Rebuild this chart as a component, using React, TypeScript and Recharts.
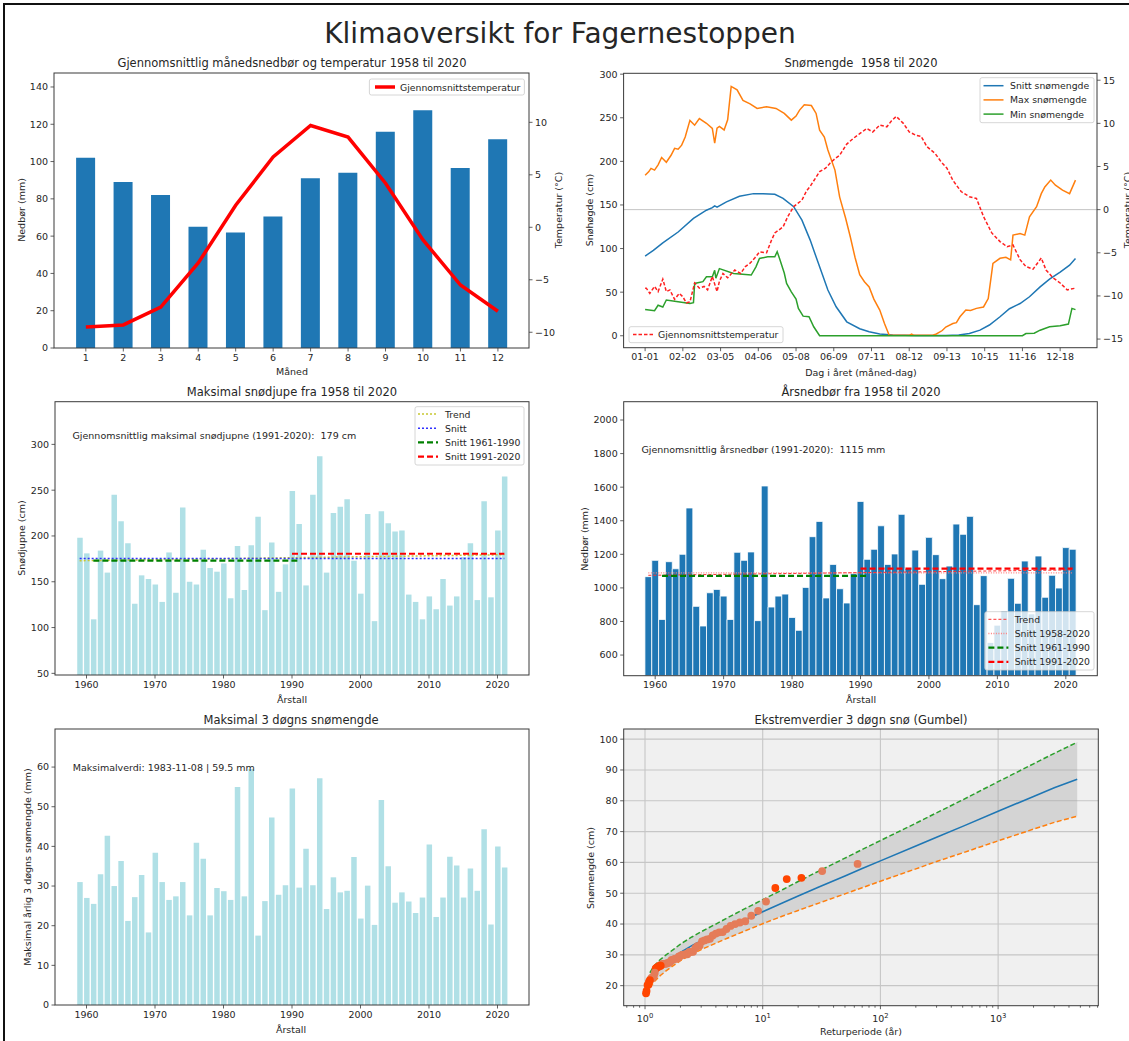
import React from 'react'
import {
  Area,
  Bar,
  CartesianGrid,
  ComposedChart,
  Line,
  LineChart,
  ReferenceLine,
  Scatter,
  XAxis,
  YAxis,
} from 'recharts'

const FONT = '"DejaVu Sans", sans-serif'
const INK = '#262626'
const SPINE = '#3a3a3a'
const tickStyle = { fontSize: 9.5, fill: INK, fontFamily: FONT }
const NB = '\u00a0'

// månedsnormaler
const months = [1, 2, 3, 4, 5, 6, 7, 8, 9, 10, 11, 12]
const monthPrecip = [102, 89, 82, 65, 62, 70.5, 91, 94, 116, 127.5, 96.5, 112]
const monthTemp = [-9.5, -9.3, -7.6, -3.4, 2.1, 6.7, 9.7, 8.6, 4.2, -1.2, -5.5, -8.0]

// snømengde gjennom året: [dag i året, verdi]
const dayTicks = [0, 32, 64, 96, 128, 160, 192, 224, 256, 288, 320, 352]
const dayTickLabels = ['01-01', '02-02', '03-05', '04-06', '05-08', '06-09', '07-11', '08-12', '09-13', '10-15', '11-16', '12-18']

const meanSnow: [number, number][] = [
  [0, 91.4], [7, 98], [15, 106.5], [28, 119], [41, 134.6], [52, 144], [57, 147], [59, 149], [61, 147.5],
  [69, 153.6], [80, 160], [92, 163], [100, 163], [110, 162.3], [117, 157.5], [126, 148], [133, 132.6],
  [140, 109.7], [148, 79], [155, 52.4], [162, 33.2], [171, 16], [182, 8], [190, 4.6], [199, 2], [210, 0.8],
  [230, 0.3], [255, 0.3], [266, 0.8], [275, 2.5], [284, 6.4], [292, 12.3], [301, 21.8], [309, 31], [318, 37],
  [326, 44.7], [335, 56], [343, 65], [352, 73], [360, 81], [365, 88.7],
]
const maxSnow: [number, number][] = [
  [0, 184], [3, 188], [5, 192], [8, 190], [11, 196], [14, 204.5], [18, 199], [22, 207], [25, 215], [28, 214],
  [31, 218.6], [34, 228], [38, 247], [42, 241.5], [46, 249], [52, 243.7], [57, 237.7], [59, 221], [61, 238],
  [63, 240], [67, 236], [70, 247.7], [73, 286], [78, 282], [83, 270], [89, 266], [95, 260.7], [103, 262.6],
  [111, 260.7], [118, 255], [124, 247.3], [128, 252], [131, 258.8], [135, 265], [141, 264], [145, 255],
  [148, 235.8], [152, 228], [155, 213], [161, 190], [165, 159], [170, 135], [174, 113.5], [178, 90], [182, 70],
  [186, 62], [190, 56], [194, 42], [199, 29.5], [203, 14], [207, 0.5], [224, 0.5], [226, 2], [228, 0.5],
  [244, 0.5], [247, 2], [252, 6], [255, 10], [261, 14], [264, 15], [267, 21.8], [272, 29.5], [276, 29],
  [281, 31.4], [287, 33], [291, 42.6], [295, 83], [301, 88.8], [306, 90], [310, 87], [312, 115.4], [318, 117.3],
  [322, 115.4], [326, 136.4], [332, 148], [336, 163], [339, 170.6], [344, 178.5], [348, 172.7], [354, 167],
  [360, 163], [365, 178.5],
]
const minSnow: [number, number][] = [
  [0, 30.2], [8, 28.7], [11, 35], [15, 33], [18, 41], [28, 39], [38, 37], [41, 38], [42, 60], [49, 62],
  [52, 67.7], [57, 67.7], [59, 75], [60, 66], [63, 77], [75, 71.5], [90, 69.6], [94, 79], [97, 88.7],
  [104, 90.6], [110, 90.6], [112, 96.3], [114, 88.7], [118, 72], [120, 60], [124, 50.4], [128, 42], [130, 31.4],
  [134, 22.5], [139, 21.8], [143, 10.3], [148, 0], [320, 0], [323, 2.5], [330, 3], [335, 6.4], [343, 10.3],
  [352, 11.5], [359, 13.4], [362, 31.4], [365, 30],
]
const dailyTemp: [number, number][] = [
  [0, -9.1], [1, -9.1], [4, -9.7], [8, -8.9], [11, -9.5], [15, -8.05], [18, -9.5], [21, -9.3], [25, -10.4],
  [29, -9.7], [32, -10.1], [35, -10.8], [38, -10.7], [42, -8.5], [46, -9.1], [50, -8.9], [53, -9.3], [57, -7.75],
  [61, -9.5], [63, -8.3], [66, -7.4], [70, -7.9], [76, -7.0], [81, -7.4], [85, -6.6], [89, -6.2], [93, -5.6],
  [97, -4.9], [103, -5.0], [107, -3.6], [110, -2.7], [117, -2.0], [121, -0.8], [126, 0.35], [133, 1.1],
  [137, 2.2], [140, 2.7], [148, 4.4], [153, 4.8], [157, 5.4], [161, 5.9], [165, 6.3], [171, 7.6], [177, 8.3],
  [182, 8.8], [188, 9.4], [193, 9.0], [199, 9.8], [205, 9.6], [209, 10.3], [213, 10.8], [219, 10.0], [224, 9.0],
  [230, 8.6], [234, 8.5], [239, 7.3], [246, 6.5], [251, 5.55], [256, 4.8], [261, 3.4], [268, 2.1], [275, 1.5],
  [281, 1.3], [287, -0.8], [294, -2.7], [301, -3.7], [307, -4.3], [312, -4.1], [318, -5.8], [323, -6.6],
  [329, -6.9], [336, -5.6], [340, -7.0], [346, -7.9], [352, -8.5], [358, -9.3], [365, -9.1],
]

// årlige verdier 1959-2021
const years = Array.from({ length: 63 }, (_, i) => 1959 + i)
const yearTicks = [1960, 1970, 1980, 1990, 2000, 2010, 2020]
const maxDepth = [
  198, 181, 109, 184, 160, 245, 216, 192, 126, 157, 153, 147, 128, 182, 138, 231, 150, 147, 185, 165, 161, 170,
  132, 189, 141, 190, 221, 119, 193, 139, 169, 249, 213, 146, 245, 287, 160, 225, 232, 240, 173, 137, 224, 107,
  227, 214, 205, 206, 136, 128, 109, 134, 120, 153, 124, 134, 177, 192, 130, 238, 133, 206, 265,
]
const depthTrend = [173, 179.5]
const depthMeanAll = 175.5
const depthMean6190 = 173
const depthMean9120 = 180.6

const annualPrecip = [
  1067, 1164, 812, 1156, 1114, 1200, 1476, 890, 773, 971, 991, 951, 812, 1212, 1164, 1214, 805, 1607, 886, 951,
  963, 824, 747, 1003, 1305, 1396, 940, 1140, 995, 910, 1085, 1515, 1170, 1230, 1370, 1140, 1202, 1438, 1116,
  1225, 1021, 1301, 1198, 1055, 1130, 1380, 1319, 1426, 900, 1073, 675, 778, 862, 1057, 908, 1160, 845, 1190,
  944, 1075, 999, 1240, 1230,
]
const precipTrend = [1075, 1107]
const precipMeanAll = 1090
const precipMean6190 = 1072
const precipMean9120 = 1115

const max3day = [
  31, 27, 25.5, 33, 42.7, 30, 36.3, 21.2, 27.2, 32.8, 18.3, 38.4, 31, 26.5, 27.4, 31, 22.6, 40.9, 36.9, 22.6,
  29.5, 28.7, 26.5, 55, 27.4, 59.5, 17.5, 26.2, 47.3, 27.8, 30.2, 54.6, 29.6, 39.4, 30.2, 57.2, 24.2, 32.2, 28.4,
  28.8, 37.3, 21.8, 30.1, 20.2, 51.7, 35, 25.8, 28.4, 26.1, 23.2, 27.1, 40.5, 22.2, 27.1, 37.4, 35.2, 27.1, 34.4,
  28.8, 44.3, 20.3, 40, 34.7,
]

// Gumbel
const gumbelT = [1.1, 1.2, 1.35, 1.5, 1.75, 2, 2.5, 3, 4, 5, 7, 10, 15, 20, 30, 50, 70, 100, 200, 300, 500, 1000, 2000, 3000, 4700]
const gumbelFit = [21.8, 23.9, 25.9, 27.3, 29.2, 30.8, 33.0, 34.6, 36.9, 38.7, 41.3, 44.0, 47.0, 49.1, 52.0, 55.6, 58.0, 60.5, 65.3, 68.2, 71.7, 76.6, 81.4, 84.2, 87.0]
const gumbelUpper = [24.2, 26.5, 28.5, 29.9, 31.8, 33.5, 35.8, 37.5, 40.0, 42.0, 44.9, 47.9, 51.3, 53.8, 57.2, 61.4, 64.2, 67.1, 72.7, 76.1, 80.3, 86.2, 92.0, 95.4, 99.0]
const gumbelLower = [19.4, 21.3, 23.3, 24.7, 26.6, 28.1, 30.2, 31.7, 33.8, 35.4, 37.7, 40.1, 42.7, 44.4, 46.8, 49.8, 51.8, 53.9, 57.9, 60.3, 63.1, 67.0, 70.8, 73.0, 75.0]
const obsT = [
  64, 32, 21.33, 16, 12.8, 10.67, 9.14, 8, 7.11, 6.4, 5.82, 5.33, 4.92, 4.57, 4.27, 4, 3.76, 3.56, 3.37, 3.2,
  3.05, 2.91, 2.78, 2.67, 2.56, 2.46, 2.37, 2.29, 2.21, 2.13, 2.06, 2, 1.94, 1.88, 1.83, 1.78, 1.73, 1.68, 1.64,
  1.6, 1.56, 1.52, 1.49, 1.45, 1.42, 1.39, 1.36, 1.33, 1.31, 1.28, 1.25, 1.23, 1.21, 1.19, 1.16, 1.14, 1.12, 1.1,
  1.08, 1.07, 1.05, 1.03, 1.02,
]
const obsSnow = [
  59.5, 57.2, 55, 54.6, 51.7, 47.3, 44.3, 42.7, 40.9, 40.5, 40, 39.4, 38.4, 37.4, 37.3, 36.9, 36.3, 35.2, 35, 34.7,
  34.4, 33, 32.8, 32.2, 31, 31, 31, 30.2, 30.2, 30.1, 30, 29.6, 29.5, 28.8, 28.8, 28.7, 28.4, 28.4, 27.8, 27.4,
  27.4, 27.2, 27.1, 27.1, 27.1, 27, 26.5, 26.5, 26.2, 26.1, 25.8, 25.5, 24.2, 23.2, 22.6, 22.6, 22.2, 21.8, 21.2,
  20.3, 20.2, 18.3, 17.5,
]
const brightRanks = [3, 4, 5, 47, 48, 49, 50, 51, 52, 58, 59, 60, 61, 62, 63]
const logTicks = [
  0.7, 0.8, 0.9, 1, 2, 3, 4, 5, 6, 7, 8, 9, 10, 20, 30, 40, 50, 60, 70, 80, 90, 100, 200, 300, 400, 500, 600, 700,
  800, 900, 1000, 2000, 3000, 4000, 5000, 6000, 7000,
]
const logMajor = [1, 10, 100, 1000]

const monthData = months.map((month, i) => ({ month, precip: monthPrecip[i], temp: monthTemp[i] }))
const pts = (arr: [number, number][]) => arr.map(([day, v]) => ({ day, v }))
const depthData = years.map((year, i) => ({ year, v: maxDepth[i] }))
const precipData = years.map((year, i) => ({ year, v: annualPrecip[i] }))
const max3Data = years.map((year, i) => ({ year, v: max3day[i] }))
const gumbelData = gumbelT.map((T, i) => ({
  T,
  fit: gumbelFit[i],
  upper: gumbelUpper[i],
  lower: gumbelLower[i],
  band: [gumbelLower[i], gumbelUpper[i]],
}))
const obsData = obsT.map((T, i) => ({ T, v: obsSnow[i], rank: i + 1 }))

const minus = (v: number) => (v < 0 ? `\u2212${Math.abs(v)}` : `${v}`)
const yearDomain = [1955.4, 2024.6]

const ax = {
  axisLine: false,
  tickLine: { stroke: SPINE, strokeWidth: 0.8 },
  tickSize: 3.5,
  tickMargin: 2.5,
  tick: tickStyle,
  interval: 0 as const,
  allowDataOverflow: true,
}

function LogTick(props: any) {
  const { x, y, payload } = props
  const k = logMajor.indexOf(payload.value)
  return (
    <g>
      <line x1={x} x2={x} y1={y} y2={y + (k >= 0 ? 3.5 : 2)} stroke={SPINE} strokeWidth={0.8} />
      {k >= 0 && (
        <text x={x} y={y + 16} textAnchor="middle" fontSize={9.5} fill={INK} fontFamily={FONT}>
          10<tspan dy={-4} fontSize={6.8}>{k}</tspan>
        </text>
      )}
    </g>
  )
}

type Entry = { label: string; color: string; width: number; dash?: string }

function LegendBox(p: { x: number; y: number; w: number; h: number; row0: number; gap: number; sx: number; tx: number; entries: Entry[] }) {
  return (
    <g>
      <rect x={p.x} y={p.y} width={p.w} height={p.h} rx={2} fill="#fff" fillOpacity={0.8} stroke="#cccccc" strokeWidth={0.8} />
      {p.entries.map((e, i) => {
        const cy = p.row0 + i * p.gap
        return (
          <g key={e.label}>
            <line x1={p.sx} x2={p.sx + 20} y1={cy} y2={cy} stroke={e.color} strokeWidth={e.width} strokeDasharray={e.dash} />
            <text x={p.tx} y={cy} dominantBaseline="central" fontSize={9.3} fill={INK} fontFamily={FONT}>
              {e.label}
            </text>
          </g>
        )
      })}
    </g>
  )
}

function T(p: { x: number; y: number; s?: number; rot?: boolean; anchor?: 'start' | 'middle' | 'end'; children: React.ReactNode }) {
  return (
    <text
      x={p.x}
      y={p.y}
      textAnchor={p.anchor ?? 'middle'}
      dominantBaseline="central"
      fontSize={p.s ?? 9.5}
      fill={INK}
      fontFamily={FONT}
      transform={p.rot ? `rotate(-90 ${p.x} ${p.y})` : undefined}
    >
      {p.children}
    </text>
  )
}

// plot-rammer (absolutte koordinater)
const frames = [
  [54, 73, 529, 348],
  [623.6, 73.3, 1097, 347.7],
  [55, 401.7, 529, 675],
  [623.7, 401.7, 1097.3, 675.7],
  [55, 729, 529, 1005],
  [623.7, 729, 1098.3, 1005.7],
]

const at = (left: number, top: number): React.CSSProperties => ({ position: 'absolute', left, top })

export default function App() {
  return (
    <div style={{ position: 'absolute', left: 0, top: 0, width: 1129, height: 1041, background: '#fff', overflow: 'hidden' }}>
      {/* månedsnedbør og temperatur */}
      <div style={at(0, 0)}>
        <ComposedChart width={565} height={390} data={monthData} margin={{ top: 73, right: 0, bottom: 0, left: 0 }}>
          <XAxis {...ax} dataKey="month" type="number" domain={[0.15, 12.83]} ticks={months} height={42} />
          <YAxis {...ax} yAxisId="l" domain={[0, 147.5]} ticks={[0, 20, 40, 60, 80, 100, 120, 140]} width={54} />
          <YAxis {...ax} yAxisId="r" orientation="right" domain={[-11.5, 14.7]} ticks={[-10, -5, 0, 5, 10]} tickFormatter={minus} width={36} />
          <Bar yAxisId="l" dataKey="precip" fill="#1f77b4" barSize={19} isAnimationActive={false} />
          <Line yAxisId="r" dataKey="temp" stroke="#ff0000" strokeWidth={3.5} dot={false} isAnimationActive={false} />
        </ComposedChart>
      </div>

      {/* snømengde */}
      <div style={at(565, 0)}>
        <LineChart width={564} height={390} margin={{ top: 73.3, right: 0, bottom: 0, left: 0 }}>
          <XAxis
            {...ax}
            dataKey="day"
            type="number"
            domain={[-18.25, 383.25]}
            ticks={dayTicks}
            tickFormatter={(v: number) => dayTickLabels[dayTicks.indexOf(v)]}
            height={42.3}
          />
          <YAxis {...ax} yAxisId="l" domain={[-13.7, 301]} ticks={[0, 50, 100, 150, 200, 250, 300]} width={58.6} />
          <YAxis {...ax} yAxisId="r" orientation="right" domain={[-16, 15.8]} ticks={[-15, -10, -5, 0, 5, 10, 15]} tickFormatter={minus} width={32} />
          <ReferenceLine yAxisId="r" y={0} stroke="#c4c4c4" strokeWidth={1} />
          <Line yAxisId="l" data={pts(meanSnow)} dataKey="v" stroke="#1f77b4" strokeWidth={1.5} dot={false} isAnimationActive={false} />
          <Line yAxisId="l" data={pts(maxSnow)} dataKey="v" stroke="#ff7f0e" strokeWidth={1.5} dot={false} isAnimationActive={false} />
          <Line yAxisId="l" data={pts(minSnow)} dataKey="v" stroke="#2ca02c" strokeWidth={1.5} dot={false} isAnimationActive={false} />
          <Line yAxisId="r" data={pts(dailyTemp)} dataKey="v" stroke="#ff2020" strokeWidth={1.5} strokeDasharray="3.5 2" dot={false} isAnimationActive={false} />
        </LineChart>
      </div>

      {/* maksimal snødjupne */}
      <div style={at(0, 380)}>
        <ComposedChart width={565} height={330} data={depthData} margin={{ top: 21.7, right: 36, bottom: 0, left: 0 }}>
          <XAxis {...ax} dataKey="year" type="number" domain={yearDomain} ticks={yearTicks} height={35} />
          <YAxis {...ax} domain={[48.2, 346.6]} ticks={[50, 100, 150, 200, 250, 300]} width={55} />
          <Bar dataKey="v" fill="#b0e0e6" barSize={5.5} isAnimationActive={false} />
          <ReferenceLine segment={[{ x: 1959, y: depthTrend[0] }, { x: 2021, y: depthTrend[1] }]} stroke="#c8c832" strokeWidth={1.5} strokeDasharray="2 2" />
          <ReferenceLine segment={[{ x: 1959, y: depthMeanAll }, { x: 2021, y: depthMeanAll }]} stroke="#3030ff" strokeWidth={1.5} strokeDasharray="2 2" />
          <ReferenceLine segment={[{ x: 1961, y: depthMean6190 }, { x: 1991, y: depthMean6190 }]} stroke="#008000" strokeWidth={2.2} strokeDasharray="6 3" />
          <ReferenceLine segment={[{ x: 1990, y: depthMean9120 }, { x: 2021, y: depthMean9120 }]} stroke="#ff0000" strokeWidth={2.2} strokeDasharray="6 3" />
        </ComposedChart>
      </div>

      {/* årsnedbør */}
      <div style={at(565, 380)}>
        <ComposedChart width={564} height={330} data={precipData} margin={{ top: 21.7, right: 31.7, bottom: 0, left: 0 }}>
          <XAxis {...ax} dataKey="year" type="number" domain={yearDomain} ticks={yearTicks} height={34.3} />
          <YAxis {...ax} domain={[477, 2109]} ticks={[600, 800, 1000, 1200, 1400, 1600, 1800, 2000]} width={58.7} />
          <Bar dataKey="v" fill="#1f77b4" stroke="#ffffff" strokeWidth={0.8} barSize={6.84} isAnimationActive={false} />
          <ReferenceLine segment={[{ x: 1959, y: precipMeanAll }, { x: 2021, y: precipMeanAll }]} stroke="#ff8080" strokeWidth={1.3} strokeDasharray="1 1.5" />
          <ReferenceLine segment={[{ x: 1959, y: precipTrend[0] }, { x: 2021, y: precipTrend[1] }]} stroke="#ff3030" strokeWidth={1} strokeDasharray="3 2" />
          <ReferenceLine segment={[{ x: 1961, y: precipMean6190 }, { x: 1991, y: precipMean6190 }]} stroke="#008000" strokeWidth={2.2} strokeDasharray="6 3" />
          <ReferenceLine segment={[{ x: 1990, y: precipMean9120 }, { x: 2021, y: precipMean9120 }]} stroke="#ff0000" strokeWidth={2.2} strokeDasharray="6 3" />
        </ComposedChart>
      </div>

      {/* maks 3-døgns snømengde */}
      <div style={at(0, 705)}>
        <ComposedChart width={565} height={336} data={max3Data} margin={{ top: 24, right: 36, bottom: 0, left: 0 }}>
          <XAxis {...ax} dataKey="year" type="number" domain={yearDomain} ticks={yearTicks} height={36} />
          <YAxis {...ax} domain={[0, 69.6]} ticks={[0, 10, 20, 30, 40, 50, 60]} width={55} />
          <Bar dataKey="v" fill="#b0e0e6" barSize={5.5} isAnimationActive={false} />
        </ComposedChart>
      </div>

      {/* Gumbel */}
      <div style={at(565, 705)}>
        <ComposedChart width={564} height={336} data={gumbelData} margin={{ top: 24, right: 30.7, bottom: 0, left: 0 }}>
          <CartesianGrid
            fill="#f0f0f0"
            stroke="#c6c6c6"
            strokeWidth={1.1}
            horizontalValues={[20, 30, 40, 50, 60, 70, 80, 90, 100]}
            verticalValues={logMajor}
          />
          <XAxis
            {...ax}
            dataKey="T"
            type="number"
            scale="log"
            domain={[0.659, 7100]}
            ticks={logTicks}
            tick={<LogTick />}
            tickLine={false}
            tickSize={0}
            tickMargin={0}
            height={35.3}
          />
          <YAxis {...ax} domain={[13.5, 103.3]} ticks={[20, 30, 40, 50, 60, 70, 80, 90, 100]} width={58.7} />
          <Area dataKey="band" fill="#a0a0a0" fillOpacity={0.35} stroke="none" isAnimationActive={false} />
          <Line dataKey="upper" stroke="#2ca02c" strokeWidth={1.5} strokeDasharray="5 2.5" dot={false} isAnimationActive={false} />
          <Line dataKey="lower" stroke="#ff7f0e" strokeWidth={1.5} strokeDasharray="5 2.5" dot={false} isAnimationActive={false} />
          <Line dataKey="fit" stroke="#1f77b4" strokeWidth={1.6} dot={false} isAnimationActive={false} />
          <Scatter
            data={obsData}
            dataKey="v"
            isAnimationActive={false}
            shape={(p: any) => (
              <circle cx={p.cx} cy={p.cy} r={3.9} fill={brightRanks.includes(p.payload?.rank) ? '#ff4500' : '#e57c59'} />
            )}
          />
        </ComposedChart>
      </div>

      {/* tekster, legender og rammer */}
      <svg width={1129} height={1041} style={{ position: 'absolute', left: 0, top: 0, pointerEvents: 'none' }}>
        <rect x={4} y={4} width={1200} height={1100} fill="none" stroke="#111" strokeWidth={2} />
        {frames.map(([l, t, r, b], i) => (
          <rect key={i} x={l} y={t} width={r - l} height={b - t} fill="none" stroke={SPINE} strokeWidth={1} />
        ))}

        <T x={560} y={33} s={28}>Klimaoversikt for Fagernestoppen</T>

        <T x={292} y={63} s={11.5}>Gjennomsnittlig månedsnedbør og temperatur 1958 til 2020</T>
        <T x={21} y={210} rot>Nedbør (mm)</T>
        <T x={558} y={210} rot>Temperatur (°C)</T>
        <T x={292} y={371}>Måned</T>
        <LegendBox x={369.4} y={79} w={155} h={16} row0={87} gap={14} sx={375} tx={400}
          entries={[{ label: 'Gjennomsnittstemperatur', color: '#ff0000', width: 3.5 }]} />

        <T x={861} y={63} s={11.5}>{`Snømengde${NB}${NB}1958 til 2020`}</T>
        <T x={589} y={210} rot>Snøhøgde (cm)</T>
        <T x={1127} y={210} rot>Temperatur (°C)</T>
        <T x={861} y={372}>Dag i året (måned-dag)</T>
        <LegendBox x={980} y={77.7} w={114} h={45} row0={85.7} gap={14.2} sx={983.5} tx={1010}
          entries={[
            { label: 'Snitt snømengde', color: '#1f77b4', width: 1.5 },
            { label: 'Max snømengde', color: '#ff7f0e', width: 1.5 },
            { label: 'Min snømengde', color: '#2ca02c', width: 1.5 },
          ]} />
        <LegendBox x={629} y={326.7} w={154} h={16} row0={334.5} gap={14} sx={633} tx={658}
          entries={[{ label: 'Gjennomsnittstemperatur', color: '#ff2020', width: 1.5, dash: '3.5 2' }]} />

        <T x={292} y={392} s={11.5}>Maksimal snødjupe fra 1958 til 2020</T>
        <T x={21.6} y={538} rot>Snødjupne (cm)</T>
        <T x={292} y={699}>Årstall</T>
        <T x={72.5} y={435} anchor="start">{`Gjennomsnittlig maksimal snødjupne (1991-2020):${NB}${NB}179 cm`}</T>
        <LegendBox x={415} y={406.7} w={109} h={58.3} row0={414} gap={14.2} sx={418} tx={445}
          entries={[
            { label: 'Trend', color: '#c8c832', width: 1.5, dash: '2 2' },
            { label: 'Snitt', color: '#3030ff', width: 1.5, dash: '2 2' },
            { label: 'Snitt 1961-1990', color: '#008000', width: 2.2, dash: '6 3' },
            { label: 'Snitt 1991-2020', color: '#ff0000', width: 2.2, dash: '6 3' },
          ]} />

        <T x={861} y={392} s={11.5}>Årsnedbør fra 1958 til 2020</T>
        <T x={584} y={539} rot>Nedbør (mm)</T>
        <T x={861} y={699}>Årstall</T>
        <T x={641.4} y={449} anchor="start">{`Gjennomsnittlig årsnedbør (1991-2020):${NB}${NB}1115 mm`}</T>
        <LegendBox x={984.8} y={611.7} w={109.2} h={58.3} row0={619.3} gap={14.2} sx={988.4} tx={1014.7}
          entries={[
            { label: 'Trend', color: '#ff3030', width: 1, dash: '3 2' },
            { label: 'Snitt 1958-2020', color: '#ff8080', width: 1.3, dash: '1 1.5' },
            { label: 'Snitt 1961-1990', color: '#008000', width: 2.2, dash: '6 3' },
            { label: 'Snitt 1991-2020', color: '#ff0000', width: 2.2, dash: '6 3' },
          ]} />

        <T x={291} y={720} s={11.5}>Maksimal 3 døgns snømengde</T>
        <T x={27} y={867} rot>Maksimal årlig 3 døgns snømengde (mm)</T>
        <T x={291} y={1029}>Årstall</T>
        <T x={72.8} y={767} anchor="start">Maksimalverdi: 1983-11-08 | 59.5 mm</T>

        <T x={861} y={720} s={11.5}>Ekstremverdier 3 døgn snø (Gumbel)</T>
        <T x={590} y={868} rot>Snømengde (cm)</T>
        <T x={861} y={1031}>Returperiode (år)</T>
      </svg>
    </div>
  )
}
